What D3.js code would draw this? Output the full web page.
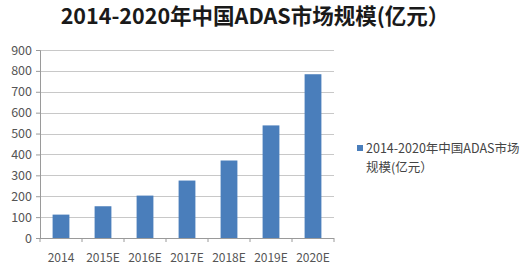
<!DOCTYPE html>
<html>
<head>
<meta charset="utf-8">
<script src="https://d3js.org/d3.v7.min.js"></script>
<style>
  body { margin: 0; background: #fff; }
  text { font-family: "Noto Sans CJK SC", "Noto Sans", sans-serif; }
</style>
</head>
<body>
<svg id="chart" width="526" height="267"></svg>
<script>
// data
var categories = ["2014", "2015E", "2016E", "2017E", "2018E", "2019E", "2020E"]
var values = [112, 152, 203, 275, 371, 539, 784]
var yTicks = [0, 100, 200, 300, 400, 500, 600, 700, 800, 900]
var seriesName = "2014-2020年中国ADAS市场规模(亿元）"
var titleText = "2014-2020年中国ADAS市场规模(亿元）"

var margin = { top: 50, left: 40, right: 192, bottom: 29 }
var width = 526 - margin.left - margin.right
var height = 267 - margin.top - margin.bottom

var svg = d3.select("#chart")
var g = svg.append("g")
  .attr("transform", "translate(" + margin.left + "," + margin.top + ")")

var x = d3.scaleBand()
  .domain(categories)
  .range([0, width])
  .paddingInner(0.6)
  .paddingOuter(0.3)

var y = d3.scaleLinear()
  .domain([0, 900])
  .range([height, 0])

// gridlines
g.selectAll(".grid")
  .data(yTicks.slice(1))
  .enter()
  .append("line")
  .attr("x1", 0)
  .attr("x2", width)
  .attr("y1", function(d) { return Math.round(y(d)) + 0.5 })
  .attr("y2", function(d) { return Math.round(y(d)) + 0.5 })
  .attr("stroke", "#c8c8c8")
  .attr("stroke-width", 1)

// y axis
var yAxis = g.append("g")
  .call(d3.axisLeft(y).tickValues(yTicks).tickSize(4).tickPadding(4))
yAxis.select(".domain").attr("stroke", "#9a9a9a")
yAxis.selectAll(".tick line").attr("stroke", "#9a9a9a")
yAxis.selectAll("text")
  .attr("fill", "#555")
  .style("font-size", "12.5px")

// bars
g.selectAll(".bar")
  .data(values)
  .enter()
  .append("rect")
  .attr("x", function(d, i) { return x(categories[i]) })
  .attr("width", x.bandwidth())
  .attr("y", function(d) { return y(d) })
  .attr("height", function(d) { return height - y(d) })
  .attr("fill", "#4a7ebb")

// x axis: ticks between categories
var step = x.step()
var xAxis = g.append("g")
  .attr("transform", "translate(0," + height + ")")
xAxis.append("line")
  .attr("x1", 0).attr("x2", width)
  .attr("y1", 0.5).attr("y2", 0.5)
  .attr("stroke", "#9a9a9a")
xAxis.selectAll(".sep")
  .data(d3.range(categories.length + 1))
  .enter()
  .append("line")
  .attr("x1", function(i) { return i * step })
  .attr("x2", function(i) { return i * step })
  .attr("y1", 0).attr("y2", 4)
  .attr("stroke", "#9a9a9a")
xAxis.selectAll(".lbl")
  .data(categories)
  .enter()
  .append("text")
  .attr("x", function(d) { return x(d) + x.bandwidth() / 2 })
  .attr("y", 24)
  .attr("text-anchor", "middle")
  .attr("fill", "#555")
  .style("font-size", "12px")
  .text(function(d) { return d })

// title
svg.append("text")
  .attr("x", 255)
  .attr("y", 24)
  .attr("text-anchor", "middle")
  .attr("fill", "#1a1a1a")
  .style("font-size", "21.5px")
  .style("font-weight", "bold")
  .text(titleText)

// legend (wrapped label as one text with two lines)
var legend = svg.append("g").attr("transform", "translate(357,141)")
legend.append("rect")
  .attr("width", 6).attr("height", 6)
  .attr("y", 4)
  .attr("fill", "#4a7ebb")
var lt = legend.append("text")
  .attr("fill", "#444")
  .style("font-size", "12.5px")
lt.append("tspan").attr("x", 9).attr("y", 12).text(seriesName.slice(0, 18))
lt.append("tspan").attr("x", 9).attr("dy", 18.5).text(seriesName.slice(18))
</script>
</body>
</html>
